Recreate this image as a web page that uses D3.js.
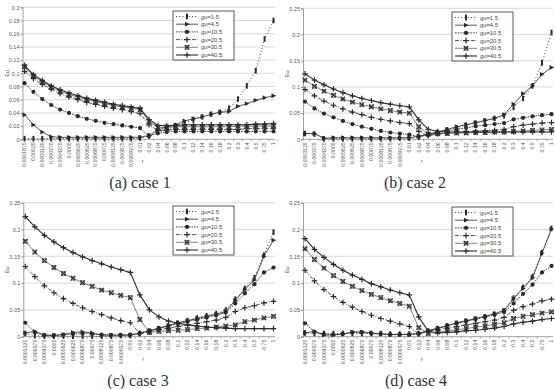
<!DOCTYPE html>
<html>
<head>
<meta charset="utf-8">
<script src="https://cdn.jsdelivr.net/npm/d3@7"></script>
<style>
  body { margin: 0; background: #fff; }
  svg { display: block; font-family: Arial, "Liberation Sans", sans-serif; }
  .caption { font-family: "Liberation Serif", "DejaVu Serif", "Times New Roman", serif; }
</style>
</head>
<body>
<div id="chart"></div>
<script>
// categories (r values)
const catsA = ["0.0001875","0.00025","0.0003125","0.000375","0.0004375","0.0005","0.0005625","0.000625",
  "0.0006875","0.00075","0.0008125","0.000875","0.0009375","0.01","0.02","0.04","0.06","0.08","0.1",
  "0.12","0.14","0.16","0.18","0.2","0.3","0.4","0.5","0.75","1"];
const catsB = ["0.0003125","0.000375","0.0004375","0.0005","0.0005625","0.000625","0.0006875","0.00075",
  "0.0008125","0.000875","0.0009375","0.01","0.02","0.04","0.06","0.08","0.1","0.12","0.14","0.16",
  "0.18","0.2","0.3","0.4","0.5","0.75","1"];

const seriesNames = ["gu=1.5","gu=4.5","gu=10.5","gu=20.5","gu=30.5","gu=40.5"];

// case 1
const a_gu1 = [0.001,0.001,0.001,0.001,0.001,0.001,0.001,0.001,0.001,0.001,0.001,0.001,0.001,0.002,0.005,0.011,0.015,0.020,0.025,0.030,0.034,0.038,0.041,0.047,0.061,0.081,0.104,0.152,0.180];
const a_gu4 = [0.037,0.022,0.011,0.004,0.003,0.003,0.003,0.003,0.003,0.003,0.003,0.003,0.003,0.003,0.006,0.014,0.019,0.022,0.028,0.031,0.034,0.038,0.041,0.042,0.050,0.054,0.059,0.063,0.066];
const a_gu10 = [0.085,0.072,0.061,0.052,0.045,0.040,0.035,0.031,0.028,0.025,0.023,0.021,0.019,0.017,0.005,0.009,0.011,0.012,0.012,0.012,0.012,0.012,0.012,0.012,0.012,0.012,0.012,0.012,0.012];
const a_gu20 = [0.103,0.092,0.083,0.076,0.069,0.064,0.060,0.056,0.053,0.050,0.047,0.045,0.042,0.039,0.022,0.013,0.014,0.015,0.015,0.015,0.015,0.015,0.015,0.015,0.015,0.016,0.016,0.016,0.016];
const a_gu30 = [0.110,0.096,0.087,0.079,0.073,0.068,0.064,0.060,0.057,0.054,0.051,0.049,0.047,0.045,0.027,0.018,0.018,0.019,0.019,0.019,0.019,0.019,0.019,0.019,0.020,0.020,0.020,0.020,0.020];
const a_gu40 = [0.112,0.098,0.089,0.081,0.075,0.070,0.066,0.062,0.059,0.056,0.053,0.051,0.049,0.047,0.030,0.021,0.021,0.021,0.022,0.022,0.022,0.022,0.022,0.022,0.022,0.022,0.023,0.023,0.024];

// case 2
const b_gu1 = [0.011,0.010,0.001,0.001,0.001,0.001,0.001,0.001,0.001,0.001,0.002,0.002,0.004,0.009,0.013,0.018,0.022,0.027,0.031,0.035,0.040,0.045,0.061,0.078,0.102,0.146,0.204];
const b_gu4 = [0.011,0.011,0.002,0.003,0.003,0.003,0.003,0.003,0.003,0.003,0.003,0.003,0.006,0.010,0.014,0.019,0.024,0.028,0.032,0.036,0.040,0.047,0.067,0.087,0.102,0.124,0.137];
const b_gu10 = [0.072,0.059,0.049,0.042,0.035,0.029,0.024,0.020,0.016,0.013,0.011,0.009,0.005,0.009,0.013,0.016,0.019,0.022,0.025,0.027,0.029,0.031,0.038,0.041,0.044,0.046,0.048];
const b_gu20 = [0.095,0.083,0.073,0.065,0.058,0.052,0.047,0.042,0.038,0.035,0.032,0.030,0.015,0.007,0.010,0.012,0.013,0.014,0.015,0.016,0.017,0.019,0.024,0.027,0.029,0.031,0.032];
const b_gu30 = [0.113,0.101,0.092,0.084,0.077,0.071,0.066,0.062,0.058,0.055,0.052,0.050,0.024,0.010,0.011,0.011,0.012,0.012,0.013,0.013,0.014,0.014,0.015,0.016,0.017,0.018,0.019];
const b_gu40 = [0.125,0.113,0.104,0.096,0.089,0.083,0.078,0.074,0.070,0.067,0.064,0.062,0.037,0.019,0.015,0.014,0.014,0.014,0.014,0.014,0.014,0.014,0.014,0.014,0.014,0.014,0.014];

// case 3
const c_gu1 = [0.006,0.002,0.001,0.001,0.001,0.001,0.001,0.001,0.001,0.001,0.002,0.002,0.006,0.010,0.015,0.020,0.025,0.030,0.035,0.039,0.043,0.050,0.070,0.090,0.110,0.152,0.195];
const c_gu4 = [0.007,0.010,0.003,0.002,0.004,0.008,0.009,0.007,0.003,0.003,0.003,0.003,0.006,0.011,0.016,0.021,0.026,0.030,0.034,0.038,0.042,0.047,0.068,0.088,0.106,0.150,0.180];
const c_gu10 = [0.026,0.008,0.003,0.003,0.004,0.005,0.006,0.005,0.004,0.003,0.003,0.004,0.007,0.012,0.016,0.020,0.024,0.028,0.032,0.036,0.040,0.045,0.062,0.081,0.098,0.120,0.129];
const c_gu20 = [0.131,0.112,0.095,0.082,0.071,0.062,0.054,0.047,0.041,0.035,0.030,0.026,0.006,0.009,0.013,0.016,0.019,0.022,0.025,0.028,0.031,0.036,0.047,0.054,0.058,0.063,0.066];
const c_gu30 = [0.178,0.158,0.142,0.129,0.118,0.109,0.101,0.094,0.087,0.082,0.077,0.073,0.032,0.008,0.010,0.011,0.012,0.013,0.015,0.016,0.018,0.020,0.022,0.028,0.031,0.035,0.038];
const c_gu40 = [0.224,0.205,0.189,0.177,0.166,0.157,0.149,0.142,0.136,0.130,0.125,0.120,0.078,0.050,0.037,0.029,0.025,0.022,0.020,0.018,0.017,0.016,0.015,0.015,0.015,0.015,0.015];

// case 4
const d_gu1 = [0.007,0.006,0.006,0.006,0.006,0.006,0.006,0.006,0.006,0.005,0.005,0.005,0.006,0.010,0.015,0.020,0.025,0.029,0.033,0.037,0.042,0.048,0.072,0.092,0.112,0.157,0.202];
const d_gu4 = [0.007,0.010,0.003,0.003,0.005,0.009,0.009,0.007,0.005,0.004,0.004,0.004,0.006,0.011,0.016,0.020,0.026,0.030,0.034,0.038,0.043,0.049,0.071,0.090,0.110,0.156,0.201];
const d_gu10 = [0.025,0.009,0.005,0.004,0.005,0.008,0.008,0.006,0.005,0.004,0.004,0.004,0.006,0.011,0.016,0.021,0.025,0.029,0.033,0.037,0.041,0.046,0.062,0.080,0.097,0.120,0.132];
const d_gu20 = [0.124,0.104,0.088,0.075,0.064,0.055,0.047,0.040,0.034,0.029,0.024,0.019,0.005,0.010,0.013,0.016,0.019,0.022,0.025,0.028,0.031,0.036,0.049,0.056,0.061,0.067,0.070];
const d_gu30 = [0.164,0.144,0.128,0.114,0.103,0.094,0.086,0.079,0.073,0.067,0.062,0.057,0.017,0.006,0.009,0.011,0.013,0.015,0.018,0.020,0.023,0.026,0.034,0.038,0.041,0.044,0.046];
const d_gu40 = [0.183,0.163,0.148,0.135,0.124,0.115,0.107,0.099,0.093,0.087,0.082,0.078,0.037,0.010,0.007,0.008,0.009,0.011,0.012,0.014,0.016,0.019,0.024,0.027,0.029,0.032,0.034];

const ticksA = [0,0.02,0.04,0.06,0.08,0.1,0.12,0.14,0.16,0.18,0.2];
const ticksB = [0,0.05,0.1,0.15,0.2,0.25];

const width = 555, height = 389;
const ink = '#2a2a2a';

const svg = d3.select('#chart').append('svg')
  .attr('width', width)
  .attr('height', height);

// line style + marker per series
const styles = [
  { dash: '1,2.2', w: 0.9, marker: 'bar' },
  { dash: null, w: 0.8, marker: 'tri' },
  { dash: '1.6,1', w: 0.9, marker: 'dot' },
  { dash: '4,1.5,1,1.5', w: 0.8, marker: 'plus' },
  { dash: null, w: 0.6, marker: 'cross' },
  { dash: null, w: 1.1, marker: 'plus' }
];

function drawMarker(g, type, x, y) {
  if (type === 'bar') {
    g.append('rect').attr('x', x - 1).attr('y', y - 2.8).attr('width', 2).attr('height', 5.6).attr('fill', ink);
  } else if (type === 'tri') {
    g.append('path').attr('d', `M${x - 2},${y - 2.4}L${x + 2.6},${y}L${x - 2},${y + 2.4}Z`).attr('fill', ink);
  } else if (type === 'dot') {
    g.append('circle').attr('cx', x).attr('cy', y).attr('r', 2.1).attr('fill', ink);
  } else if (type === 'plus') {
    g.append('path').attr('d', `M${x - 2.8},${y}H${x + 2.8}M${x},${y - 2.8}V${y + 2.8}`)
      .attr('stroke', ink).attr('stroke-width', 1.2);
  } else if (type === 'cross') {
    g.append('path').attr('d', `M${x - 2.3},${y - 2.3}L${x + 2.3},${y + 2.3}M${x + 2.3},${y - 2.3}L${x - 2.3},${y + 2.3}`)
      .attr('stroke', ink).attr('stroke-width', 1.1);
    g.append('rect').attr('x', x - 1.8).attr('y', y - 1.8).attr('width', 3.6).attr('height', 3.6)
      .attr('fill', 'none').attr('stroke', ink).attr('stroke-width', 0.5);
  }
}

function drawPanel(p) {
  const g = svg.append('g');

  const x = d3.scalePoint().domain(p.cats).range([p.left + 2, p.right - 1.5]);
  const y = d3.scaleLinear().domain([0, p.yMax]).range([p.bottom, p.top]);

  // gridlines
  g.selectAll('.grid')
    .data(p.ticks.filter(t => t > 0))
    .enter().append('line')
    .attr('x1', p.left).attr('x2', p.right)
    .attr('y1', d => y(d)).attr('y2', d => y(d))
    .attr('stroke', '#c8c8c8').attr('stroke-width', 0.7);

  // y axis
  const yAxis = d3.axisLeft(y).tickValues(p.ticks).tickSize(2).tickFormat(d => d === 0 ? '0' : String(+d.toFixed(2)));
  const ya = g.append('g').attr('transform', `translate(${p.left},0)`).call(yAxis);
  ya.select('.domain').attr('stroke', '#888').attr('stroke-width', 0.8);
  ya.selectAll('.tick line').attr('stroke', '#888');
  ya.selectAll('.tick text').attr('font-size', 5.5).attr('fill', '#555').attr('x', -3);

  // x axis
  const step = x.step();
  const xa = g.append('g').attr('transform', `translate(0,${p.bottom})`);
  xa.append('line').attr('x1', p.left).attr('x2', p.right).attr('stroke', '#888').attr('stroke-width', 0.8);
  xa.selectAll('.xt')
    .data(p.cats)
    .enter().append('line')
    .attr('x1', d => x(d) + step / 2).attr('x2', d => x(d) + step / 2)
    .attr('y1', 0).attr('y2', 2)
    .attr('stroke', '#888').attr('stroke-width', 0.6);
  xa.selectAll('.xl')
    .data(p.cats)
    .enter().append('text')
    .attr('transform', d => `translate(${x(d) + 1.8},3) rotate(-90)`)
    .attr('text-anchor', 'end')
    .attr('font-size', 5.2)
    .attr('fill', '#555')
    .text(d => d);

  // axis titles
  g.append('text')
    .attr('x', (p.left + p.right) / 2 - 6).attr('y', p.bottom + 24)
    .attr('font-size', 5.5).attr('fill', '#555').attr('text-anchor', 'middle')
    .text('r');
  g.append('text')
    .attr('transform', `translate(${p.left - 14},${(p.top + p.bottom) / 2}) rotate(-90)`)
    .attr('font-size', 5.5).attr('fill', '#555').attr('text-anchor', 'middle')
    .text('Eu');

  // series
  const line = d3.line().x((d, i) => x(p.cats[i])).y(d => y(d));
  p.series.forEach((vals, si) => {
    const st = styles[si];
    const sg = g.append('g');
    sg.append('path')
      .attr('d', line(vals))
      .attr('fill', 'none')
      .attr('stroke', ink)
      .attr('stroke-width', st.w)
      .attr('stroke-dasharray', st.dash);
    vals.forEach((v, i) => drawMarker(sg, st.marker, x(p.cats[i]), y(v)));
  });

  // legend
  const lg = g.append('g').attr('transform', `translate(${p.legX},${p.legY})`);
  lg.append('rect').attr('width', 61).attr('height', 49)
    .attr('fill', '#fff').attr('stroke', '#444').attr('stroke-width', 0.9);
  seriesNames.forEach((name, i) => {
    const st = styles[i];
    const ly = 5.5 + i * 7.7;
    lg.append('line').attr('x1', 3).attr('x2', 25).attr('y1', ly).attr('y2', ly)
      .attr('stroke', ink).attr('stroke-width', st.w).attr('stroke-dasharray', st.dash);
    drawMarker(lg, st.marker, 14, ly);
    lg.append('text').attr('x', 28).attr('y', ly + 2)
      .attr('font-size', 5.8).attr('fill', '#444').text(name);
  });

  // caption
  svg.append('text')
    .attr('class', 'caption')
    .attr('x', p.capX).attr('y', p.capY)
    .attr('text-anchor', 'middle')
    .style('font-size', '16px').style('fill', '#333')
    .text(p.caption);
}

drawPanel({ cats: catsA, series: [a_gu1, a_gu4, a_gu10, a_gu20, a_gu30, a_gu40], yMax: 0.2, ticks: ticksA,
  left: 22.5, right: 275, top: 7.3, bottom: 139.3, legX: 173, legY: 11, capX: 140, capY: 188, caption: '(a) case 1' });
drawPanel({ cats: catsB, series: [b_gu1, b_gu4, b_gu10, b_gu20, b_gu30, b_gu40], yMax: 0.25, ticks: ticksB,
  left: 303, right: 553, top: 8.3, bottom: 139.3, legX: 452, legY: 12, capX: 415, capY: 188, caption: '(b) case 2' });
drawPanel({ cats: catsB, series: [c_gu1, c_gu4, c_gu10, c_gu20, c_gu30, c_gu40], yMax: 0.25, ticks: ticksB,
  left: 23.3, right: 275, top: 202.7, bottom: 336.7, legX: 173, legY: 206, capX: 138, capY: 386, caption: '(c) case 3' });
drawPanel({ cats: catsB, series: [d_gu1, d_gu4, d_gu10, d_gu20, d_gu30, d_gu40], yMax: 0.25, ticks: ticksB,
  left: 303, right: 553, top: 202.7, bottom: 336.7, legX: 452, legY: 207, capX: 416, capY: 386, caption: '(d) case 4' });
</script>
</body>
</html>
